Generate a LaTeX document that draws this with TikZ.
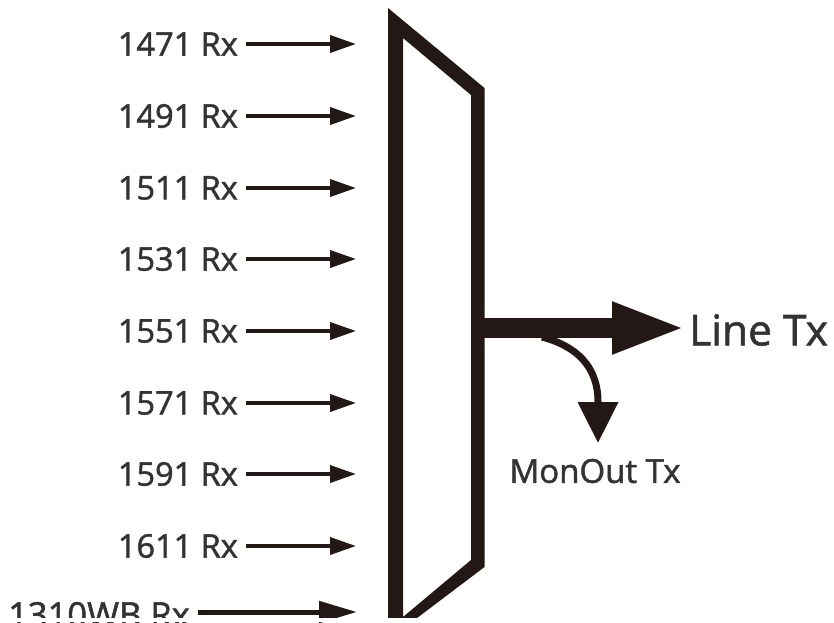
\documentclass[tikz,border=0pt]{standalone}
\usepackage{fontspec}
\setmainfont{Open Sans}
\newfontfamily\heavyfont[FakeBold=1.5]{Open Sans}
\usetikzlibrary{arrows.meta}
\definecolor{ink}{HTML}{231815}
\definecolor{txt}{HTML}{333333}
\tikzset{
  x=1pt,y=-1pt,
  rxlabel/.style={font=\heavyfont\fontsize{32.5}{34}\selectfont,text=txt,anchor=east,inner sep=0pt},
  rxarrow/.style={draw=ink,line width=3.6pt,-{Triangle[length=26pt,width=17pt]}},
  wbarrow/.style={draw=ink,line width=5pt,-{Triangle[length=38pt,width=21pt]}},
  linearrow/.style={draw=ink,line width=20pt,-{Triangle[length=74pt,width=47pt]}},
  monarrow/.style={draw=ink,line width=7pt,-{Triangle[length=41pt,width=39pt]}},
}
\begin{document}
\begin{tikzpicture}
\useasboundingbox (0,0) rectangle (834,622);
\fill[white] (0,0) rectangle (834,622);
% multiplexer body
\fill[ink,even odd rule] (388,8) -- (484.5,88) -- (484.5,567) -- (417,618) -- (388,618) -- cycle
  (403,38) -- (403,617) -- (471,560) -- (471,95) -- cycle;
% inputs
\foreach \name/\lab/\yy in {a/1471/44,b/1491/116,c/1511/188,d/1531/259,e/1551/331,f/1571/403,g/1591/474,h/1611/546}{
  \node[rxlabel] (l\name) at (238,\yy) {\lab{} Rx};
  \coordinate (s\name) at (246,\yy);
  \coordinate (t\name) at (356,\yy);
  \draw[rxarrow] (s\name) -- (t\name);
}
\node[rxlabel,font=\heavyfont\fontsize{34.5}{36}\selectfont,anchor=base west] (li) at (8,627) {1310WB Rx};
\coordinate (si) at (198,612);
\coordinate (ti) at (357,612);
\draw[wbarrow] (si) -- (ti);
% clip the bottom and left edges as the reference does
\fill[white] (0,618) rectangle (834,622);
\fill[white] (0,590) rectangle (11,622);
% outputs
\coordinate (muxout) at (478,328);
\coordinate (linetip) at (686,328);
\node[font=\heavyfont\fontsize{42.5}{44}\selectfont,text=txt,anchor=west,inner sep=0pt] (linetx) at (689,330) {Line Tx};
\draw[linearrow] (muxout) -- (linetip);
\coordinate (branch) at (542,337);
\coordinate (montip) at (598,443);
\draw[monarrow] (branch) .. controls (576,346) and (598,366) .. (598,402) -- (montip);
\node[font=\heavyfont\fontsize{33}{35}\selectfont,text=txt,anchor=center,inner sep=0pt] (monout) at (595,471) {MonOut Tx};
\end{tikzpicture}
\end{document}
